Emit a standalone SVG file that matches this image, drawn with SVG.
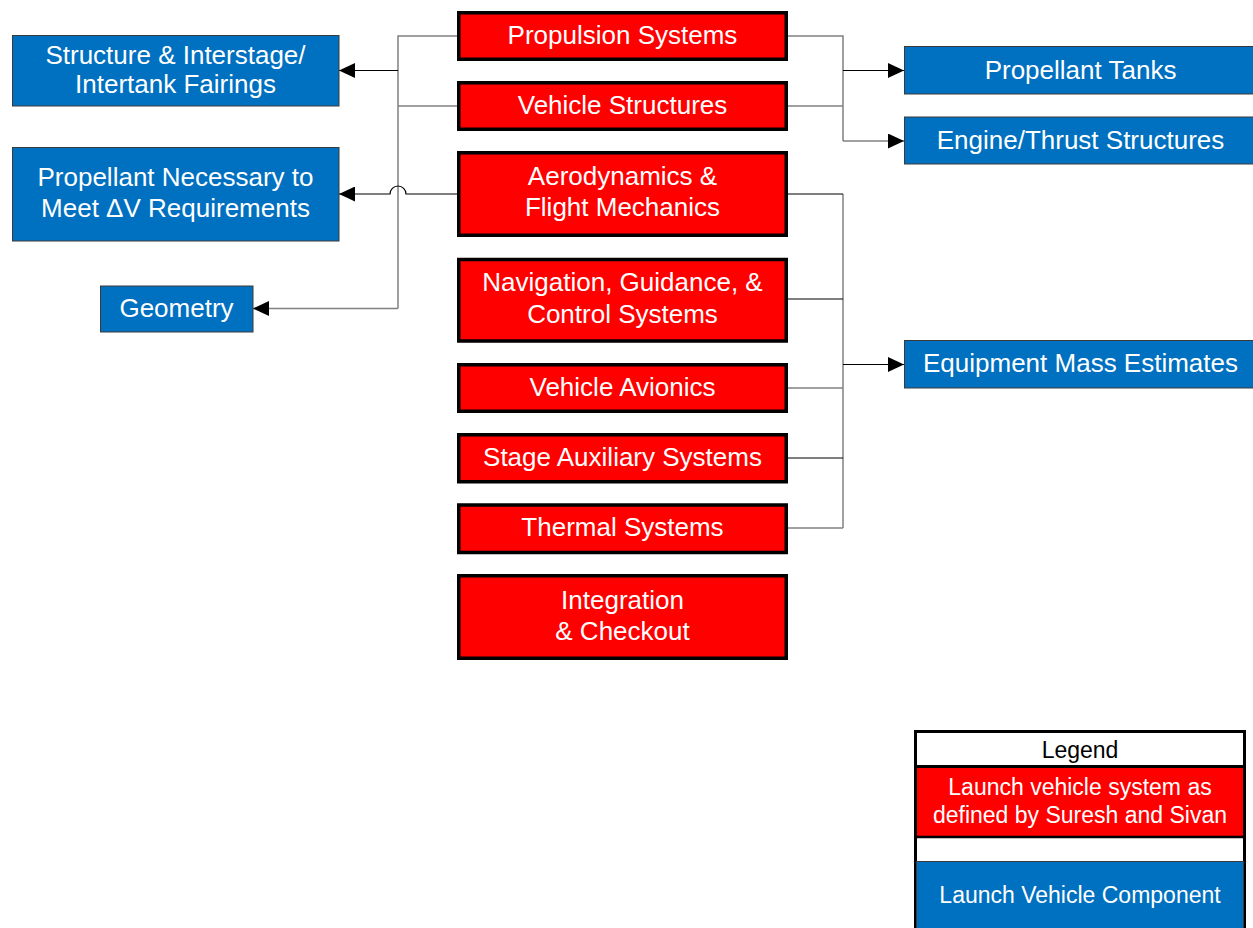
<svg xmlns="http://www.w3.org/2000/svg" width="1253" height="928" viewBox="0 0 1253 928">
<style>
.sys rect{fill:#FF0000;stroke:#000;stroke-width:3.5}
.comp rect{fill:#0070C0;stroke:#3a3a3a;stroke-width:1}
text{font-family:"Liberation Sans",Arial,sans-serif;text-anchor:middle}
.sys text,.comp text{fill:#fff;font-size:26px}
.lg{font-size:23px}
.g{fill:none;stroke:#808080;stroke-width:1.5}
.k{fill:none;stroke:#000;stroke-width:1.2}
</style>
<defs>
<marker id="ah" markerUnits="userSpaceOnUse" markerWidth="16" markerHeight="15" refX="16" refY="7.5" orient="auto">
<path d="M0,0 L16,7.5 L0,15 Z" fill="#000"/>
</marker>
</defs>
<rect width="1253" height="928" fill="#fff"/>
<g id="connectors">
<path class="g" d="M457,36 H398 V308.5"/>
<path class="g" d="M457,106 H398"/>
<path class="g" d="M398,308.5 H253" marker-end="url(#ah)"/>
<path class="k" d="M398,70.5 H339" marker-end="url(#ah)"/>
<path class="k" d="M457,194 H406 A8,8 0 0 0 390,194 H339" marker-end="url(#ah)"/>
<path class="g" d="M788,36 H843 V141"/>
<path class="g" d="M788,106 H843"/>
<path class="k" d="M843,70.5 H904" marker-end="url(#ah)"/>
<path class="g" d="M843,141 H904" marker-end="url(#ah)"/>
<path class="g" d="M843,194 V528"/>
<path class="k" d="M788,194 H843"/>
<path class="k" d="M788,299 H843"/>
<path class="g" d="M788,388 H843"/>
<path class="k" d="M788,458 H843"/>
<path class="g" d="M788,528 H843"/>
<path class="k" d="M843,364.5 H904" marker-end="url(#ah)"/>
</g>
<g id="n-propulsion" class="sys"><rect x="458.75" y="12.75" width="327.5" height="46.5"/><text x="622.5" y="43.5">Propulsion Systems</text></g>
<g id="n-vehstruct" class="sys"><rect x="458.75" y="82.75" width="327.5" height="46.5"/><text x="622.5" y="113.5">Vehicle Structures</text></g>
<g id="n-aero" class="sys"><rect x="458.75" y="152.75" width="327.5" height="82.5"/><text x="622.5" y="185">Aerodynamics &amp;</text><text x="622.5" y="216">Flight Mechanics</text></g>
<g id="n-nav" class="sys"><rect x="458.75" y="259.5" width="327.5" height="81.5"/><text x="622.5" y="291">Navigation, Guidance, &amp;</text><text x="622.5" y="323">Control Systems</text></g>
<g id="n-avionics" class="sys"><rect x="458.75" y="364.75" width="327.5" height="46.5"/><text x="622.5" y="395.5">Vehicle Avionics</text></g>
<g id="n-stage" class="sys"><rect x="458.75" y="434.75" width="327.5" height="47"/><text x="622.5" y="466">Stage Auxiliary Systems</text></g>
<g id="n-thermal" class="sys"><rect x="458.75" y="505" width="327.5" height="47.5"/><text x="622.5" y="536">Thermal Systems</text></g>
<g id="n-integration" class="sys"><rect x="458.75" y="575.75" width="327.5" height="82.5"/><text x="622.5" y="608.5">Integration</text><text x="622.5" y="640">&amp; Checkout</text></g>
<g id="n-structure" class="comp"><rect x="12.5" y="35.5" width="326.5" height="70.5"/><text x="175.5" y="63.5">Structure &amp; Interstage/</text><text x="175.5" y="93">Intertank Fairings</text></g>
<g id="n-propnec" class="comp"><rect x="12.5" y="147.5" width="326.5" height="93.5"/><text x="175.5" y="186">Propellant Necessary to</text><text x="175.5" y="217">Meet ΔV Requirements</text></g>
<g id="n-geometry" class="comp"><rect x="100.5" y="286" width="152.5" height="46"/><text x="176.5" y="316.5">Geometry</text></g>
<g id="n-tanks" class="comp"><rect x="904.5" y="46.5" width="352" height="47.5"/><text x="1080.5" y="79">Propellant Tanks</text></g>
<g id="n-engine" class="comp"><rect x="904.5" y="117" width="352" height="47"/><text x="1080.5" y="149">Engine/Thrust Structures</text></g>
<g id="n-equipment" class="comp"><rect x="904.5" y="340.5" width="352" height="47.5"/><text x="1080.5" y="372">Equipment Mass Estimates</text></g>
<g id="legend">
<rect x="915.5" y="731.5" width="329" height="210" fill="#fff" stroke="#000" stroke-width="3"/>
<rect x="917" y="768" width="326" height="68" fill="#FF0000"/>
<line x1="914" y1="766.5" x2="1246" y2="766.5" stroke="#000" stroke-width="3"/>
<line x1="914" y1="837" x2="1246" y2="837" stroke="#000" stroke-width="2.5"/>
<rect x="916.5" y="861.5" width="327" height="80" fill="#0070C0" stroke="#3a3a3a" stroke-width="1"/>
<text class="lg" x="1080" y="758" fill="#000">Legend</text>
<text class="lg" x="1080" y="794.5" fill="#fff">Launch vehicle system as</text>
<text class="lg" x="1080" y="823" fill="#fff">defined by Suresh and Sivan</text>
<text class="lg" x="1080" y="903" fill="#fff">Launch Vehicle Component</text>
</g>
</svg>
